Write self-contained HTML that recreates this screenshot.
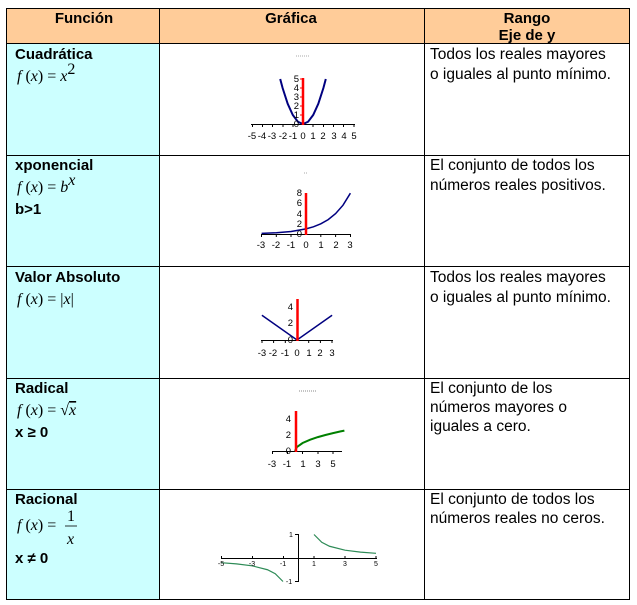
<!DOCTYPE html>
<html><head><meta charset="utf-8"><style>
body{margin:0;background:#fff;}
svg{display:block}
.h{font:bold 15px "Liberation Sans",sans-serif;fill:#000}
.t{font:15.5px "Liberation Sans",sans-serif;fill:#000}
.f{font:italic 16px "Liberation Serif",serif;fill:#000}
.n{font:16px "Liberation Serif",serif;fill:#000}
.a{font:9.5px "Liberation Sans",sans-serif;fill:#000}
.s{font:7px "Liberation Sans",sans-serif;fill:#000}
</style></head><body>
<svg width="637" height="605" viewBox="0 0 637 605">
<rect x="6" y="8" width="624" height="35" fill="#FFCC99"/>
<rect x="6" y="43" width="153" height="557" fill="#CCFFFF"/>
<g stroke="#000" stroke-width="1" fill="none">
<rect x="6.5" y="8.5" width="623" height="591"/>
<line x1="159.5" y1="8" x2="159.5" y2="600"/>
<line x1="424.5" y1="8" x2="424.5" y2="600"/>
<line x1="6" y1="43.5" x2="630" y2="43.5"/>
<line x1="6" y1="155.5" x2="630" y2="155.5"/>
<line x1="6" y1="266.5" x2="630" y2="266.5"/>
<line x1="6" y1="378.5" x2="630" y2="378.5"/>
<line x1="6" y1="489.5" x2="630" y2="489.5"/>
</g>
<text class="h" x="84" y="23" text-anchor="middle">Función</text>
<text class="h" x="291" y="23" text-anchor="middle">Gráfica</text>
<text class="h" x="527" y="23" text-anchor="middle">Rango</text>
<text class="h" x="527" y="40" text-anchor="middle">Eje de y</text>

<text class="h" x="15" y="59">Cuadrática</text>
<text x="17" y="81"><tspan class="f">f</tspan><tspan class="n"> (</tspan><tspan class="f">x</tspan><tspan class="n">) = </tspan><tspan class="f">x</tspan><tspan class="n" font-size="10" dy="-7">2</tspan></text>
<text class="h" x="15" y="170">xponencial</text>
<text x="17" y="192"><tspan class="f">f</tspan><tspan class="n"> (</tspan><tspan class="f">x</tspan><tspan class="n">) = </tspan><tspan class="f">b</tspan><tspan class="f" font-size="10" dy="-7">x</tspan></text>
<text class="h" x="15" y="214">b&gt;1</text>
<text class="h" x="15" y="282">Valor Absoluto</text>
<text x="17" y="304"><tspan class="f">f</tspan><tspan class="n"> (</tspan><tspan class="f">x</tspan><tspan class="n">) = |</tspan><tspan class="f">x</tspan><tspan class="n">|</tspan></text>
<text class="h" x="15" y="393">Radical</text>
<text x="17" y="415"><tspan class="f">f</tspan><tspan class="n"> (</tspan><tspan class="f">x</tspan><tspan class="n">) = √</tspan><tspan class="f" text-decoration="overline">x</tspan></text>
<text class="h" x="15" y="437">x ≥ 0</text>
<text class="h" x="15" y="504">Racional</text>
<text x="17" y="530"><tspan class="f">f</tspan><tspan class="n"> (</tspan><tspan class="f">x</tspan><tspan class="n">) = </tspan></text>
<text class="n" x="67" y="521">1</text>
<line x1="65" y1="526" x2="77" y2="526" stroke="#000" stroke-width="0.8"/>
<text class="f" x="67" y="544">x</text>
<text class="h" x="15" y="563">x ≠ 0</text>

<text class="t" x="430" y="59">Todos los reales mayores</text>
<text class="t" x="430" y="79">o iguales al punto mínimo.</text>
<text class="t" x="430" y="170">El conjunto de todos los</text>
<text class="t" x="430" y="190">números reales positivos.</text>
<text class="t" x="430" y="282">Todos los reales mayores</text>
<text class="t" x="430" y="302">o iguales al punto mínimo.</text>
<text class="t" x="430" y="393">El conjunto de los</text>
<text class="t" x="430" y="412">números mayores o</text>
<text class="t" x="430" y="431">iguales a cero.</text>
<text class="t" x="430" y="504">El conjunto de todos los</text>
<text class="t" x="430" y="523">números reales no ceros.</text>

<!-- graph 1 -->
<line x1="296" y1="56" x2="310" y2="56" stroke="#aaa" stroke-width="1" stroke-dasharray="1,1"/>
<g stroke="#000" stroke-width="1">
<line x1="251" y1="124.5" x2="355" y2="124.5"/>
<path d="M252.5 124v3M262.5 124v3M272.5 124v3M283 124v3M293 124v3M313 124v3M323.5 124v3M333.5 124v3M343.5 124v3M354 124v3"/>
</g>
<polyline fill="none" stroke="#000080" stroke-width="2" points="280.2,79 282.6,88 287.7,103.75 292.8,115 297.9,121.75 303,124 308.1,121.75 313.2,115 318.3,103.75 323.4,88 325.8,79"/>
<line x1="303" y1="78" x2="303" y2="125" stroke="#f00" stroke-width="2.5"/>
<path d="M300 79h3M300 88h3M300 97h3M300 106h3M300 115h3" stroke="#f00" stroke-width="1"/>
<g class="a" text-anchor="end"><text x="299" y="82">5</text><text x="299" y="91">4</text><text x="299" y="100">3</text><text x="299" y="109">2</text><text x="299" y="118">1</text><text x="299" y="127">0</text></g>
<g class="a" text-anchor="middle"><text x="252" y="139">-5</text><text x="262" y="139">-4</text><text x="272" y="139">-3</text><text x="283" y="139">-2</text><text x="293" y="139">-1</text><text x="303" y="139">0</text><text x="313" y="139">1</text><text x="323" y="139">2</text><text x="334" y="139">3</text><text x="344" y="139">4</text><text x="354" y="139">5</text></g>

<!-- graph 2 -->
<line x1="304" y1="173" x2="308" y2="173" stroke="#aaa" stroke-width="1" stroke-dasharray="1,1"/>
<g stroke="#000" stroke-width="1">
<line x1="261" y1="234.5" x2="351" y2="234.5"/>
<path d="M261.5 234v3M276.3 234v3M291 234v3M320.8 234v3M335.6 234v3M350.5 234v3"/>
</g>
<polyline fill="none" stroke="#000080" stroke-width="1.5" points="261.6,233.4 276.4,232.7 291.2,231.45 306,228.9 313.4,226.8 320.8,223.8 328.2,219.6 335.6,213.6 343,205.2 350.4,193.2"/>
<line x1="306" y1="193" x2="306" y2="235" stroke="#f00" stroke-width="2.5"/>
<g class="a" text-anchor="end"><text x="302" y="196">8</text><text x="302" y="206">6</text><text x="302" y="217">4</text><text x="302" y="227">2</text><text x="302" y="237">0</text></g>
<g class="a" text-anchor="middle"><text x="261" y="248">-3</text><text x="276" y="248">-2</text><text x="291" y="248">-1</text><text x="306" y="248">0</text><text x="321" y="248">1</text><text x="336" y="248">2</text><text x="350" y="248">3</text></g>

<!-- graph 3 -->
<g stroke="#000" stroke-width="1">
<line x1="261" y1="340.5" x2="333" y2="340.5"/>
<path d="M262 340v3M273.6 340v3M285.3 340v3M308.7 340v3M320.4 340v3M332 340v3"/>
</g>
<polyline fill="none" stroke="#000080" stroke-width="1.5" points="261.9,315.25 297,340 332.1,315.25"/>
<line x1="297.5" y1="299" x2="297.5" y2="341" stroke="#f00" stroke-width="2.5"/>
<g class="a" text-anchor="end"><text x="293" y="310">4</text><text x="293" y="326">2</text><text x="293" y="343">0</text></g>
<g class="a" text-anchor="middle"><text x="262" y="356">-3</text><text x="273" y="356">-2</text><text x="285" y="356">-1</text><text x="297" y="356">0</text><text x="309" y="356">1</text><text x="320" y="356">2</text><text x="332" y="356">3</text></g>

<!-- graph 4 -->
<line x1="299" y1="391" x2="316" y2="391" stroke="#888" stroke-width="1" stroke-dasharray="1,1"/>
<g stroke="#000" stroke-width="1">
<line x1="272" y1="451.5" x2="342" y2="451.5"/>
<path d="M272.5 451v3M287.5 451v3M302.5 451v3M318 451v3M333 451v3"/>
</g>
<polyline fill="none" stroke="#008000" stroke-width="2" points="295,451 296.9,447 302.6,443 310.2,439.7 317.8,437.1 325.4,435 333,433.1 340.6,431.4 344.4,430.6"/>
<line x1="296" y1="411" x2="296" y2="452" stroke="#f00" stroke-width="2.5"/>
<g class="a" text-anchor="end"><text x="291" y="422">4</text><text x="291" y="438">2</text><text x="291" y="454">0</text></g>
<g class="a" text-anchor="middle"><text x="272" y="467">-3</text><text x="287" y="467">-1</text><text x="303" y="467">1</text><text x="318" y="467">3</text><text x="333" y="467">5</text></g>

<!-- graph 5 -->
<g stroke="#000" stroke-width="1">
<line x1="221" y1="558.5" x2="377" y2="558.5"/>
<path d="M221.5 556v3M252.5 556v3M283.5 556v3M314 556v3M345 556v3M376 556v3"/>
<line x1="298.5" y1="534" x2="298.5" y2="582"/>
<path d="M295 534.5h3.5M295 581.5h3.5"/>
</g>
<polyline fill="none" stroke="#2E8B57" stroke-width="1.2" points="314,534.5 321.75,542.3 329.5,546.25 345,550.2 360.5,552.1 376,553.3"/>
<polyline fill="none" stroke="#2E8B57" stroke-width="1.2" points="221,562.7 236.5,563.9 252,565.8 267.5,569.75 275.25,573.7 283,581.5"/>
<g class="s" text-anchor="middle" font-weight="bold"><text x="221" y="566">-5</text><text x="252" y="566">-3</text><text x="283" y="566">-1</text><text x="314" y="566">1</text><text x="345" y="566">3</text><text x="376" y="566">5</text><text x="291" y="537">1</text><text x="289" y="584">-1</text></g>
</svg>
</body></html>
